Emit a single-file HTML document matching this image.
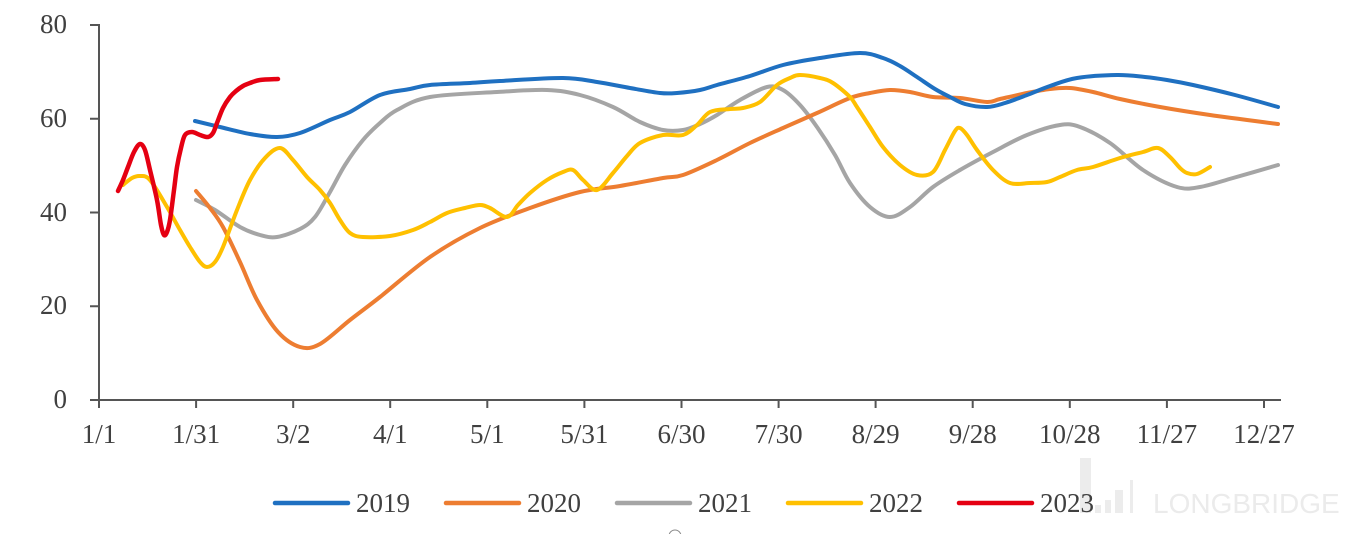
<!DOCTYPE html>
<html>
<head>
<meta charset="utf-8">
<style>
  html, body { margin:0; padding:0; background:#ffffff; }
  body { width:1360px; height:534px; overflow:hidden; }
  svg { display:block; }
  .t { font-family:"Liberation Serif", serif; font-size:27px; fill:#404040; }
</style>
</head>
<body>
<svg id="chart" width="1360" height="534" viewBox="0 0 1360 534" xmlns="http://www.w3.org/2000/svg">
  <rect width="1360" height="534" fill="#ffffff"/>

  <!-- watermark -->
  <g fill="#ececec">
    <rect x="1080" y="458" width="11" height="55"/>
    <rect x="1095" y="505" width="6" height="8"/>
    <rect x="1105" y="500" width="6" height="13"/>
    <rect x="1115" y="490" width="8" height="23"/>
    <rect x="1130" y="480" width="3" height="33"/>
  </g>
  <text x="1153" y="513" font-family="Liberation Sans, sans-serif" font-size="28" fill="#ebebeb">LONGBRIDGE</text>
  <circle cx="675" cy="536" r="6" fill="none" stroke="#888" stroke-width="1"/>

  <!-- axes -->
  <g stroke="#555555" stroke-width="2" fill="none">
    <line x1="99" y1="24" x2="99" y2="401"/>
    <line x1="90" y1="400" x2="1281" y2="400"/>
    <line x1="90" y1="25" x2="99" y2="25"/>
    <line x1="90" y1="118.75" x2="99" y2="118.75"/>
    <line x1="90" y1="212.5" x2="99" y2="212.5"/>
    <line x1="90" y1="306.25" x2="99" y2="306.25"/>
    <line x1="99" y1="400" x2="99" y2="408"/>
    <line x1="196.1" y1="400" x2="196.1" y2="408"/>
    <line x1="293.2" y1="400" x2="293.2" y2="408"/>
    <line x1="390.2" y1="400" x2="390.2" y2="408"/>
    <line x1="487.3" y1="400" x2="487.3" y2="408"/>
    <line x1="584.4" y1="400" x2="584.4" y2="408"/>
    <line x1="681.5" y1="400" x2="681.5" y2="408"/>
    <line x1="778.6" y1="400" x2="778.6" y2="408"/>
    <line x1="875.6" y1="400" x2="875.6" y2="408"/>
    <line x1="972.7" y1="400" x2="972.7" y2="408"/>
    <line x1="1069.8" y1="400" x2="1069.8" y2="408"/>
    <line x1="1166.9" y1="400" x2="1166.9" y2="408"/>
    <line x1="1264" y1="400" x2="1264" y2="408"/>
  </g>

  <!-- y labels -->
  <g class="t" text-anchor="end">
    <text x="67" y="33">80</text>
    <text x="67" y="127">60</text>
    <text x="67" y="221">40</text>
    <text x="67" y="314">20</text>
    <text x="67" y="408">0</text>
  </g>

  <!-- x labels -->
  <g class="t" text-anchor="middle">
    <text x="99" y="443">1/1</text>
    <text x="196.1" y="443">1/31</text>
    <text x="293.2" y="443">3/2</text>
    <text x="390.2" y="443">4/1</text>
    <text x="487.3" y="443">5/1</text>
    <text x="584.4" y="443">5/31</text>
    <text x="681.5" y="443">6/30</text>
    <text x="778.6" y="443">7/30</text>
    <text x="875.6" y="443">8/29</text>
    <text x="972.7" y="443">9/28</text>
    <text x="1069.8" y="443">10/28</text>
    <text x="1166.9" y="443">11/27</text>
    <text x="1264" y="443">12/27</text>
  </g>

  <!-- series -->
  <g id="series" fill="none" stroke-width="4" stroke-linejoin="round" stroke-linecap="round">
    <!-- 2021 gray -->
    <polyline stroke="#a5a5a5" points="196,200 215,210 240,227 260,235 277,237 300,229 315,217 330,192 345,165 363,140 380,123 397,110 430,97 497,92 547,90 580,95 613,107 640,122 663,130 683,130 700,124 717,115 740,100 767,87 783,90 800,105 817,127 835,155 850,183 870,207 890,217 910,207 933,187 960,170 993,152 1027,135 1060,125 1080,127 1110,143 1143,170 1177,187 1200,187 1233,178 1278,165"/>
    <!-- 2020 orange -->
    <polyline stroke="#ed7d31" points="196,191 210,208 223,227 240,262 257,300 278,332 300,347 320,344 350,320 380,297 430,257 480,228 530,208 580,192 620,186 663,178 683,175 717,160 750,143 783,128 817,113 850,98 870,93 890,90 910,92 933,97 960,98 987,102 1000,99 1027,93 1050,89 1070,88 1093,92 1120,99 1160,107 1210,115 1278,124"/>
    <!-- 2019 blue -->
    <polyline stroke="#1f70c1" points="195,121 220,127 250,134 277,137 300,133 330,120 350,112 380,95 410,89 430,85 470,83 500,81 563,78 597,82 630,88 660,93 677,93 700,90 717,85 750,76 783,65 820,58 860,53 883,58 900,66 917,77 935,89 950,97 965,104 987,107 1005,103 1027,95 1050,86 1077,78 1117,75 1145,77 1167,80 1193,85 1235,95 1278,107"/>
    <!-- 2022 yellow -->
    <polyline stroke="#ffc000" points="123,185 132,178 140,176 150,180 167,207 180,230 190,247 200,262 207,267 215,262 223,247 237,210 250,180 265,158 280,148 293,160 307,177 320,190 330,203 340,220 350,233 363,237 390,236 413,230 430,222 447,213 465,208 480,205 490,208 507,217 518,205 530,193 547,180 563,172 573,170 583,180 597,190 613,173 627,156 640,143 663,135 683,135 697,125 710,112 730,109 743,108 760,102 777,85 790,78 800,75 820,78 833,83 850,97 857,107 870,127 883,147 900,165 917,175 933,172 945,150 955,131 960,128 967,135 977,150 993,170 1010,183 1030,183 1047,182 1060,177 1077,170 1093,167 1120,158 1143,152 1158,148 1170,157 1180,168 1187,173 1197,174 1210,167"/>
    <!-- 2023 red -->
    <polyline stroke="#e50012" stroke-width="4.5" points="118,191 123,180 128,167 134,152 140,144 145,150 150,170 157,200 161,225 164,235 167,232 170,220 174,190 177,167 181,148 185,135 192,132 200,135 208,137 213,133 217,123 223,108 230,97 236,91 243,86 250,83 260,80 278,79"/>
  </g>

  <!-- legend -->
  <g stroke-width="4.5" stroke-linecap="round">
    <line x1="275" y1="503" x2="348" y2="503" stroke="#1f70c1"/>
    <line x1="446" y1="503" x2="519" y2="503" stroke="#ed7d31"/>
    <line x1="617" y1="503" x2="690" y2="503" stroke="#a5a5a5"/>
    <line x1="788" y1="503" x2="861" y2="503" stroke="#ffc000"/>
    <line x1="959" y1="503" x2="1032" y2="503" stroke="#e50012"/>
  </g>
  <g class="t">
    <text x="356" y="512">2019</text>
    <text x="527" y="512">2020</text>
    <text x="698" y="512">2021</text>
    <text x="869" y="512">2022</text>
    <text x="1040" y="512">2023</text>
  </g>
</svg>
<script>
(function(){
  var ns = "http://www.w3.org/2000/svg";
  var lines = document.querySelectorAll('#series polyline');
  for (var k = 0; k < lines.length; k++) {
    var pl = lines[k];
    var raw = pl.getAttribute('points').trim().split(/\s+/);
    var p = raw.map(function(s){ var a = s.split(','); return [parseFloat(a[0]), parseFloat(a[1])]; });
    if (p.length < 3) continue;
    var d = 'M' + p[0][0] + ',' + p[0][1];
    var t = 0.5;
    for (var i = 0; i < p.length - 1; i++) {
      var p0 = p[i > 0 ? i - 1 : i], p1 = p[i], p2 = p[i + 1], p3 = p[i + 2 < p.length ? i + 2 : i + 1];
      var c1x = p1[0] + (p2[0] - p0[0]) * t / 3, c1y = p1[1] + (p2[1] - p0[1]) * t / 3;
      var c2x = p2[0] - (p3[0] - p1[0]) * t / 3, c2y = p2[1] - (p3[1] - p1[1]) * t / 3;
      d += ' C' + c1x.toFixed(2) + ',' + c1y.toFixed(2) + ' ' + c2x.toFixed(2) + ',' + c2y.toFixed(2) + ' ' + p2[0] + ',' + p2[1];
    }
    var path = document.createElementNS(ns, 'path');
    path.setAttribute('d', d);
    path.setAttribute('stroke', pl.getAttribute('stroke'));
    if (pl.getAttribute('stroke-width')) path.setAttribute('stroke-width', pl.getAttribute('stroke-width'));
    pl.parentNode.replaceChild(path, pl);
  }
})();
</script>
</body>
</html>
